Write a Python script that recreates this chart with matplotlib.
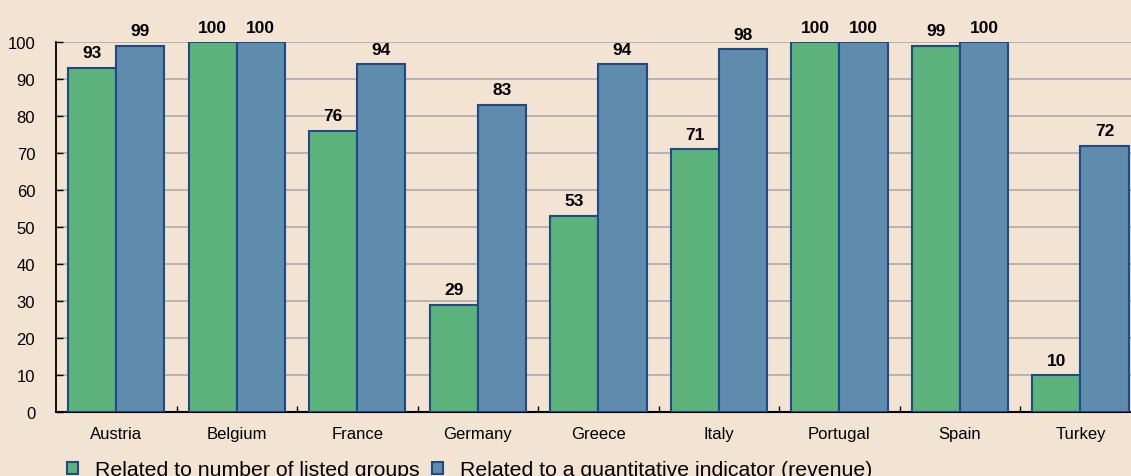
import numpy as np
import matplotlib.pyplot as plt
from matplotlib.ticker import FixedLocator

countries = ['Austria', 'Belgium', 'France', 'Germany', 'Greece',
             'Italy', 'Portugal', 'Spain', 'Turkey']
listed_groups = [93, 100, 76, 29, 53, 71, 100, 99, 10]
revenue = [99, 100, 94, 83, 94, 98, 100, 100, 72]
series_names = ['Related to number of listed groups',
                'Related to a quantitative indicator (revenue)']

plt.rcParams['font.family'] = ['Liberation Sans', 'DejaVu Sans']

bg = '#F3E3D2'
green = '#5BB37B'
blue = '#5F8BAD'
edge = '#1F4A85'

fig = plt.figure(figsize=(11.31, 4.77), dpi=100, facecolor=bg)
ax = fig.add_axes([0.0495, 0.134, 0.9505, 0.776], facecolor=bg)

x = np.arange(len(countries))
w = 0.4
b1 = ax.bar(x - w / 2, listed_groups, w, color=green, edgecolor=edge,
            linewidth=1.5, label=series_names[0], zorder=3)
b2 = ax.bar(x + w / 2, revenue, w, color=blue, edgecolor=edge,
            linewidth=1.5, label=series_names[1], zorder=3)

# value labels above each bar
for bars, vals in ((b1, listed_groups), (b2, revenue)):
    for r, v in zip(bars, vals):
        ax.annotate(str(v), (r.get_x() + r.get_width() / 2, v),
                    xytext=(0, 7.5), textcoords='offset points',
                    ha='center', va='baseline', fontsize=12.5,
                    fontweight='bold', annotation_clip=False)

ax.set_xlim(-0.5, 8.42)
ax.set_ylim(0, 100)
ax.set_yticks(range(0, 101, 10))
ax.yaxis.grid(True, color='#B3B0AC', linewidth=1.3, zorder=0)
ax.set_axisbelow(True)

ax.set_xticks(x)
ax.set_xticklabels(countries, fontsize=12)
ax.tick_params(axis='x', which='major', length=0, pad=10)
ax.xaxis.set_minor_locator(FixedLocator(np.arange(0.5, 8.5, 1)))
ax.tick_params(axis='x', which='minor', direction='in', length=4.5,
               width=1, color='black')
ax.tick_params(axis='y', labelsize=12, length=5, width=1, direction='in',
               pad=15)

for s in ('top', 'right'):
    ax.spines[s].set_visible(False)
ax.spines['left'].set_linewidth(1.3)
ax.spines['bottom'].set_linewidth(1.5)

ax.legend(loc='center left', bbox_to_anchor=(67 / 1131, 6 / 477),
          bbox_transform=fig.transFigure, ncol=2, frameon=False,
          fontsize=15.3, handlelength=0.52, handleheight=0.52,
          handletextpad=0.8, columnspacing=0.6, borderaxespad=0,
          borderpad=0)

fig.savefig('out.png', dpi=100, facecolor=bg)
